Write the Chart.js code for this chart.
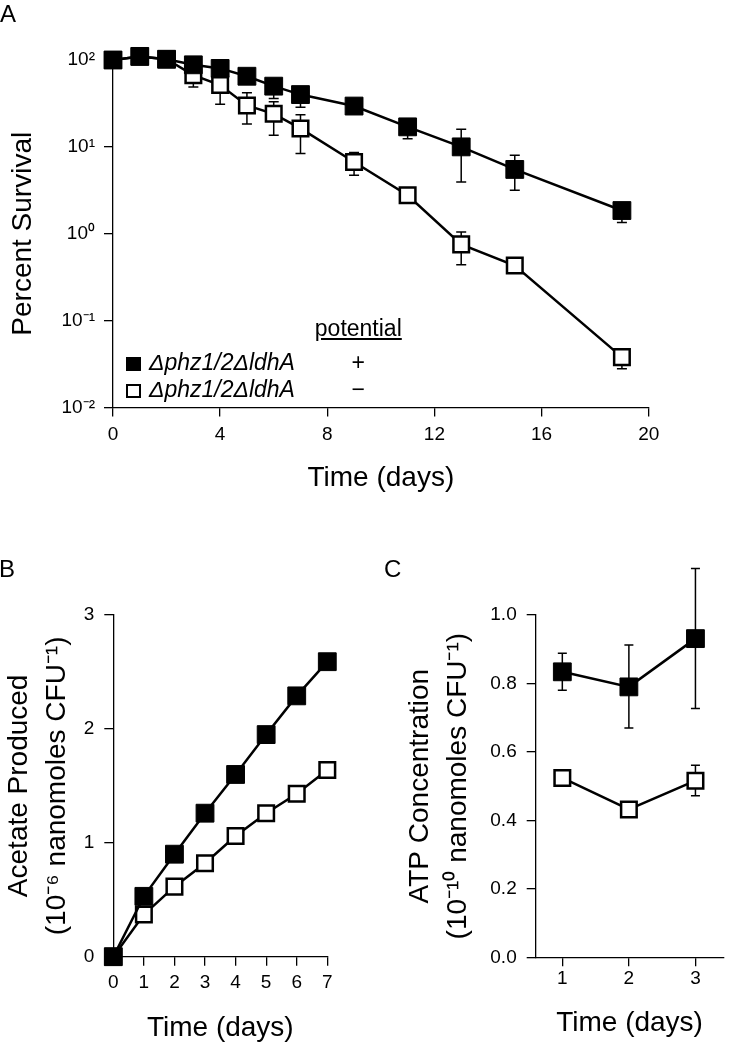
<!DOCTYPE html>
<html><head><meta charset="utf-8">
<script src="https://cdn.jsdelivr.net/npm/chart.js@4.4.0/dist/chart.umd.min.js"></script>
<style>
html,body{margin:0;padding:0;background:#fff;}
#wrap{position:relative;width:737px;height:1050px;overflow:hidden;font-family:'Liberation Sans',Arial,sans-serif;color:#000;}
canvas{position:absolute;}
.t{position:absolute;white-space:nowrap;line-height:1;}
</style></head><body>
<div id="wrap">
<canvas id="cA" width="737" height="510" style="left:0;top:0;width:737px;height:510px"></canvas>
<canvas id="cB" width="370" height="530" style="left:0;top:520px;width:370px;height:530px"></canvas>
<canvas id="cC" width="367" height="530" style="left:370px;top:520px;width:367px;height:530px"></canvas>
<div class="t" style="left:0;top:1.7px;font-size:24px">A</div>
<div class="t" style="left:-1px;top:556.7px;font-size:24px">B</div>
<div class="t" style="left:384px;top:556.7px;font-size:24px">C</div>
<div style="position:absolute;left:126px;top:356.7px;width:14.7px;height:14.7px;background:#000"></div>
<div style="position:absolute;left:126px;top:384px;width:14.5px;height:13.5px;border:2px solid #000;box-sizing:border-box;background:#fff"></div>
<div class="t" style="left:149px;top:350.5px;font-size:23px;font-style:italic">Δphz1/2ΔldhA</div>
<div class="t" style="left:149px;top:377.5px;font-size:23px;font-style:italic">Δphz1/2ΔldhA</div>
<div class="t" style="left:298.3px;width:120px;text-align:center;top:317.2px;font-size:23px;text-decoration:underline">potential</div>
<div class="t" style="left:298.3px;width:120px;text-align:center;top:350.5px;font-size:23px">+</div>
<div class="t" style="left:298.3px;width:120px;text-align:center;top:377.5px;font-size:23px">−</div>
</div>
<script>
// ---- Panel A data ----
const daysA = [0,1,2,3,4,5,6,7,9,11,13,15,19];
const survPlus = [100,110,102,88,80,65,50,40,29.5,17,10,5.5,1.85];
const survPlusLow = [null,null,null,null,null,null,36,28.5,null,12.4,3.95,3.16,1.35];
const survPlusHigh = [null,null,null,null,null,null,null,null,null,null,16,8.0,null];
const survMinus = [100,110,102,67,51.5,30,24,16.3,6.7,2.77,0.755,0.43,0.038];
const survMinusLow = [null,null,null,49,31,18.3,13.6,8.4,4.7,null,0.44,null,0.028];
const survMinusHigh = [null,null,null,null,null,42,33,23.5,8.6,null,1.05,null,0.047];
const yTicksA = [0.01,0.1,1,10,100];
const yTickLabelsA = ['10⁻²','10⁻¹','10⁰','10¹','10²'];
const xTicksA = [0,4,8,12,16,20];
const xTickLabelsA = ['0','4','8','12','16','20'];

// ---- Panel B data ----
const daysB = [0,1,2,3,4,5,6,7];
const acetatePlus = [0,0.53,0.90,1.26,1.60,1.95,2.29,2.59];
const acetateMinus = [0,0.37,0.615,0.82,1.06,1.26,1.43,1.64];
const yTicksB = [0,1,2,3];
const yTickLabelsB = ['0','1','2','3'];
const xTicksB = [0,1,2,3,4,5,6,7];
const xTickLabelsB = ['0','1','2','3','4','5','6','7'];

// ---- Panel C data ----
const daysC = [1,2,3];
const atpPlus = [0.834,0.790,0.931];
const atpPlusLow = [0.780,0.670,0.727];
const atpPlusHigh = [0.888,0.912,1.136];
const atpMinus = [0.524,0.432,0.516];
const atpMinusLow = [null,null,0.472];
const atpMinusHigh = [null,null,0.561];
const yTicksC = [0,0.2,0.4,0.6,0.8,1.0];
const yTickLabelsC = ['0.0','0.2','0.4','0.6','0.8','1.0'];
const xTicksC = [1,2,3];
const xTickLabelsC = ['1','2','3'];

const F = "'Liberation Sans', Arial, sans-serif";
Chart.defaults.color = '#000';
Chart.defaults.font.family = F;

const errorBars = {
  id: 'errorBars',
  beforeDatasetsDraw(chart) {
    const ctx = chart.ctx, ys = chart.scales.y;
    chart.data.datasets.forEach((ds, di) => {
      if (!ds.errLow && !ds.errHigh) return;
      const meta = chart.getDatasetMeta(di);
      const cap = ds.errCap || 5;
      ctx.save();
      ctx.strokeStyle = '#000';
      ctx.lineWidth = 1.5;
      meta.data.forEach((pt, i) => {
        const y0 = ys.getPixelForValue(ds.data[i].y);
        [ds.errLow ? ds.errLow[i] : null, ds.errHigh ? ds.errHigh[i] : null].forEach(e => {
          if (e == null) return;
          const y1 = ys.getPixelForValue(e);
          ctx.beginPath();
          ctx.moveTo(pt.x, y0); ctx.lineTo(pt.x, y1);
          ctx.moveTo(pt.x - cap, y1); ctx.lineTo(pt.x + cap, y1);
          ctx.stroke();
        });
      });
      ctx.restore();
    });
  }
};

function pts(xs, ys) { return xs.map((x, i) => ({x: x, y: ys[i]})); }

function filledSet(xs, ys, lo, hi, cap) {
  return {data: pts(xs, ys), errLow: lo, errHigh: hi, errCap: cap,
    borderColor: '#000', borderWidth: 2.5, showLine: true, tension: 0, clip: false,
    pointStyle: 'rect', pointRadius: 12.6, pointHoverRadius: 12.6,
    pointBackgroundColor: '#000', pointBorderColor: '#000', pointBorderWidth: 1};
}
function openSet(xs, ys, lo, hi, cap) {
  return {data: pts(xs, ys), errLow: lo, errHigh: hi, errCap: cap,
    borderColor: '#000', borderWidth: 2.5, showLine: true, tension: 0, clip: false,
    pointStyle: 'rect', pointRadius: 11, pointHoverRadius: 11,
    pointBackgroundColor: '#fff', pointBorderColor: '#000', pointBorderWidth: 2.5};
}

function axis(o) {
  return Object.assign({
    grid: {display: true, drawOnChartArea: false, drawTicks: true, tickLength: 9, color: '#000', lineWidth: 1.3},
    border: {display: true, color: '#000', width: 1.3}
  }, o);
}

function makeChart(id, datasets, xOpt, yOpt, padding) {
  return new Chart(document.getElementById(id), {
    type: 'scatter',
    data: {datasets: datasets},
    options: {
      responsive: false, animation: false, devicePixelRatio: 1,
      layout: {padding: padding},
      plugins: {legend: {display: false}, tooltip: {enabled: false}},
      scales: {x: axis(xOpt), y: axis(yOpt)}
    },
    plugins: [errorBars]
  });
}

// Panel A
makeChart('cA',
  [filledSet(daysA, survPlus, survPlusLow, survPlusHigh, 5),
   openSet(daysA, survMinus, survMinusLow, survMinusHigh, 5)],
  {type: 'linear', position: 'bottom', min: 0, max: 20,
   afterFit(s) { s.height = 102.5; },
   afterBuildTicks(s) { s.ticks = xTicksA.map(v => ({value: v})); },
   ticks: {font: {size: 19}, padding: 7, maxRotation: 0, autoSkip: false, callback: (v, i) => xTickLabelsA[i]},
   title: {display: true, text: 'Time (days)', font: {size: 28}, padding: {top: 0, bottom: 15}}},
  {type: 'logarithmic', position: 'left', min: 0.01, max: 100,
   afterFit(s) { s.width = 113; },
   afterBuildTicks(s) { s.ticks = yTicksA.map(v => ({value: v})); },
   ticks: {font: {size: 19}, padding: 9, autoSkip: false, callback: (v, i) => yTickLabelsA[i]},
   title: {display: true, text: 'Percent Survival', font: {size: 28}, padding: {top: 6.8, bottom: 0}}},
  {left: 0, right: 88.3, top: 60, bottom: 0});

// Panel B
makeChart('cB',
  [filledSet(daysB, acetatePlus, null, null, 5),
   openSet(daysB, acetateMinus, null, null, 5)],
  {type: 'linear', position: 'bottom', min: 0, max: 7,
   afterFit(s) { s.height = 93.3; },
   afterBuildTicks(s) { s.ticks = xTicksB.map(v => ({value: v})); },
   ticks: {font: {size: 19}, padding: 6, maxRotation: 0, autoSkip: false, callback: (v, i) => xTickLabelsB[i]},
   title: {display: true, text: 'Time (days)', font: {size: 28}, padding: {top: 0, bottom: 5}}},
  {type: 'linear', position: 'left', min: 0, max: 3,
   afterFit(s) { s.width = 113.3; },
   afterBuildTicks(s) { s.ticks = yTicksB.map(v => ({value: v})); },
   ticks: {font: {size: 19}, padding: 10, autoSkip: false, callback: (v, i) => yTickLabelsB[i]},
   title: {display: true, text: ['Acetate Produced', '(10⁻⁶ nanomoles CFU⁻¹)'], font: {size: 28, lineHeight: 1.37}, padding: {top: 0, bottom: 0}}},
  {left: 0, right: 42.7, top: 95, bottom: 0});

// Panel C
makeChart('cC',
  [filledSet(daysC, atpPlus, atpPlusLow, atpPlusHigh, 4.5),
   openSet(daysC, atpMinus, atpMinusLow, atpMinusHigh, 4.5)],
  {type: 'linear', position: 'bottom', min: 0.6, max: 3.42,
   afterFit(s) { s.height = 92.7; },
   afterBuildTicks(s) { s.ticks = xTicksC.map(v => ({value: v})); },
   ticks: {font: {size: 19}, padding: 1, maxRotation: 0, autoSkip: false, callback: (v, i) => xTickLabelsC[i]},
   title: {display: true, text: 'Time (days)', font: {size: 28}, padding: {top: 0, bottom: 10}}},
  {type: 'linear', position: 'left', min: 0, max: 1,
   afterFit(s) { s.width = 165.7; },
   afterBuildTicks(s) { s.ticks = yTicksC.map(v => ({value: v})); },
   ticks: {font: {size: 19}, padding: 10, autoSkip: false, callback: (v, i) => yTickLabelsC[i]},
   title: {display: true, text: ['ATP Concentration', '(10⁻¹⁰ nanomoles CFU⁻¹)'], font: {size: 28, lineHeight: 1.37}, padding: {top: 31, bottom: 0}}},
  {left: 0, right: 0, top: 95, bottom: 0});
</script>
</body></html>
